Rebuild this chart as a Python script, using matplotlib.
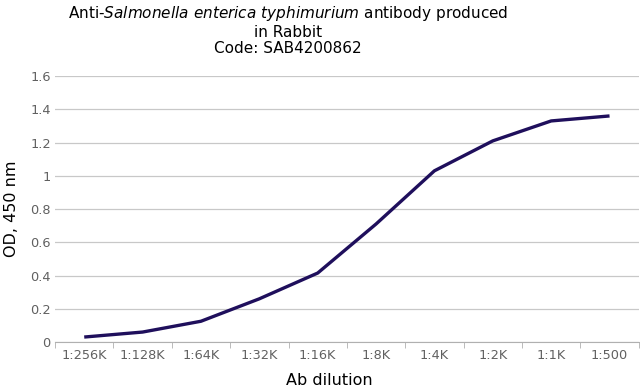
import matplotlib
matplotlib.use("Agg")
import matplotlib.pyplot as plt
import numpy as np

dilutions = ["1:256K", "1:128K", "1:64K", "1:32K", "1:16K", "1:8K", "1:4K", "1:2K", "1:1K", "1:500"]
od_450 = [0.03, 0.06, 0.125, 0.26, 0.415, 0.71, 1.03, 1.21, 1.33, 1.36]
y_ticks = [0, 0.2, 0.4, 0.6, 0.8, 1, 1.2, 1.4, 1.6]
y_tick_labels = ["0", "0.2", "0.4", "0.6", "0.8", "1", "1.2", "1.4", "1.6"]

plt.rcParams["font.family"] = ["DejaVu Sans"]
plt.rcParams["mathtext.fontset"] = "dejavusans"

fig = plt.figure(figsize=(6.4, 3.9), dpi=100)
ax = fig.add_axes([0.086, 0.123, 0.912, 0.682])

x = np.arange(len(dilutions))
ax.plot(x, od_450, color="#1f0f5c", linewidth=2.4, solid_capstyle="butt")

ax.set_xlim(-0.5, len(dilutions) - 0.5)
ax.set_ylim(0, 1.6)
ax.set_yticks(y_ticks)
ax.set_yticklabels(y_tick_labels)
ax.set_xticks(x)
ax.set_xticklabels(dilutions)
ax.set_xticks(np.arange(-0.5, len(dilutions)), minor=True)

ax.grid(axis="y", color="#c8c8c8", linewidth=0.9)
ax.set_axisbelow(True)
for side in ["top", "right", "left"]:
    ax.spines[side].set_visible(False)
ax.spines["bottom"].set_color("#b0b0b0")
ax.tick_params(axis="y", length=0, colors="#606060", labelsize=9.3, pad=3)
ax.tick_params(axis="x", which="major", length=0, colors="#606060", labelsize=9.3, pad=5)
ax.tick_params(axis="x", which="minor", length=4, color="#b0b0b0")

ax.set_xlabel("Ab dilution", fontsize=11.5)
ax.set_ylabel("OD, 450 nm", fontsize=11.5)
ax.xaxis.set_label_coords(0.47, -0.115)
ax.yaxis.set_label_coords(-0.062, 0.5)

fig.text(0.45, 0.99,
         "Anti-$\\it{Salmonella\\ enterica\\ typhimurium}$ antibody produced\nin Rabbit\nCode: SAB4200862",
         ha="center", va="top", fontsize=11, linespacing=1.14)

fig.savefig("out.png", dpi=100)
